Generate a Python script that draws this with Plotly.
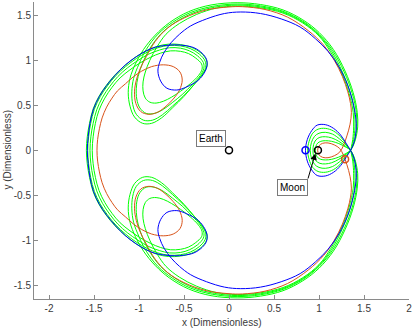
import plotly.graph_objects as go

# ---- Data: upper half-paths of each symmetric orbit ----
# Each half runs from the far-left crossing of the x-axis, through the upper-left
# loop, over the top arc, down the right arc, through the crossing near x=1.35 and
# along the lower half of the Moon lobe back to the x-axis. The full orbit is the
# half plus its mirror image in the x-axis.
blue_half = [
    (-1.575, 0.0), (-1.565, 0.15), (-1.545, 0.30), (-1.505, 0.46), (-1.44, 0.60),
    (-1.36, 0.72), (-1.26, 0.84), (-1.15, 0.95), (-1.03, 1.04), (-0.93, 1.10),
    (-0.82, 1.145), (-0.71, 1.165), (-0.60, 1.172), (-0.50, 1.165), (-0.39, 1.14),
    (-0.30, 1.08), (-0.25, 1.01), (-0.245, 0.94), (-0.27, 0.87), (-0.34, 0.78),
    (-0.47, 0.705), (-0.58, 0.67), (-0.69, 0.69), (-0.76, 0.77), (-0.79, 0.88),
    (-0.77, 0.98), (-0.72, 1.09), (-0.64, 1.20), (-0.55, 1.29), (-0.43, 1.38),
    (-0.25, 1.46), (-0.05, 1.52), (0.13, 1.537), (0.35, 1.52), (0.58, 1.46),
    (0.79, 1.37), (0.96, 1.24), (1.10, 1.10), (1.22, 0.93), (1.32, 0.72),
    (1.385, 0.50), (1.414, 0.30), (1.405, 0.16), (1.38, 0.06), (1.35, 0.0),
    (1.30, -0.08), (1.24, -0.17), (1.16, -0.245), (1.07, -0.285), (0.98, -0.28),
    (0.92, -0.22), (0.87, -0.12), (0.85, 0.0),
]

red_half = [
    (-1.467, 0.0), (-1.46, 0.12), (-1.44, 0.24), (-1.41, 0.36), (-1.36, 0.48),
    (-1.30, 0.58), (-1.24, 0.66), (-1.15, 0.74), (-1.06, 0.82), (-0.97, 0.88),
    (-0.86, 0.93), (-0.73, 0.95), (-0.62, 0.93), (-0.545, 0.87), (-0.52, 0.78),
    (-0.55, 0.67), (-0.62, 0.57), (-0.70, 0.49), (-0.79, 0.425), (-0.89, 0.40),
    (-0.98, 0.43), (-1.035, 0.52), (-1.05, 0.65), (-1.03, 0.78), (-0.99, 0.90),
    (-0.92, 1.04), (-0.82, 1.21), (-0.68, 1.36), (-0.50, 1.47), (-0.25, 1.56),
    (0.0, 1.593), (0.15, 1.596), (0.40, 1.565), (0.65, 1.48), (0.88, 1.33),
    (1.05, 1.17), (1.17, 1.00), (1.26, 0.82), (1.32, 0.65), (1.35, 0.52),
    (1.36, 0.42), (1.345, 0.29), (1.31, 0.16), (1.27, 0.05), (1.23, -0.02),
    (1.17, -0.06), (1.10, -0.082), (1.04, -0.078), (1.0, -0.05), (0.985, 0.0),
]

green1_half = [
    (-1.585, 0.0), (-1.575, 0.15), (-1.55, 0.30), (-1.51, 0.46), (-1.445, 0.60),
    (-1.365, 0.72), (-1.27, 0.835), (-1.16, 0.94), (-1.04, 1.035), (-0.92, 1.105),
    (-0.80, 1.155), (-0.67, 1.18), (-0.54, 1.175), (-0.42, 1.145), (-0.31, 1.08),
    (-0.25, 1.00), (-0.245, 0.93), (-0.29, 0.85), (-0.38, 0.74), (-0.50, 0.60),
    (-0.63, 0.47), (-0.75, 0.36), (-0.86, 0.30), (-0.96, 0.30), (-1.05, 0.37),
    (-1.10, 0.49), (-1.12, 0.64), (-1.10, 0.80), (-1.04, 0.96), (-0.95, 1.12),
    (-0.82, 1.28), (-0.66, 1.42), (-0.45, 1.54), (-0.2, 1.615), (0.09, 1.64),
    (0.35, 1.62), (0.60, 1.56), (0.82, 1.45), (1.0, 1.31), (1.16, 1.12),
    (1.29, 0.88), (1.38, 0.64), (1.425, 0.42), (1.43, 0.26), (1.405, 0.12),
    (1.375, 0.04), (1.35, 0.0), (1.30, -0.07), (1.24, -0.15), (1.16, -0.215),
    (1.07, -0.244), (0.99, -0.235), (0.93, -0.19), (0.89, -0.10), (0.873, 0.0),
]

green2_half = [
    (-1.57, 0.0), (-1.56, 0.15), (-1.537, 0.30), (-1.497, 0.455), (-1.432, 0.595),
    (-1.352, 0.715), (-1.258, 0.83), (-1.15, 0.93), (-1.03, 1.02), (-0.91, 1.09),
    (-0.79, 1.14), (-0.67, 1.165), (-0.54, 1.16), (-0.43, 1.13), (-0.33, 1.07),
    (-0.265, 0.99), (-0.26, 0.92), (-0.30, 0.84), (-0.39, 0.73), (-0.51, 0.60),
    (-0.63, 0.49), (-0.74, 0.395), (-0.85, 0.335), (-0.95, 0.335), (-1.03, 0.40),
    (-1.07, 0.51), (-1.08, 0.65), (-1.06, 0.80), (-1.0, 0.96), (-0.92, 1.12),
    (-0.79, 1.29), (-0.63, 1.42), (-0.43, 1.53), (-0.18, 1.60), (0.09, 1.625),
    (0.35, 1.605), (0.60, 1.545), (0.82, 1.435), (1.0, 1.29), (1.15, 1.11),
    (1.28, 0.87), (1.37, 0.63), (1.415, 0.42), (1.42, 0.26), (1.40, 0.12),
    (1.372, 0.04), (1.35, 0.0), (1.30, -0.06), (1.23, -0.125), (1.15, -0.18),
    (1.07, -0.2), (1.0, -0.19), (0.95, -0.155), (0.915, -0.085), (0.903, 0.0),
]

green3_half = [
    (-1.545, 0.0), (-1.535, 0.15), (-1.51, 0.30), (-1.47, 0.45), (-1.405, 0.59),
    (-1.325, 0.71), (-1.235, 0.82), (-1.13, 0.915), (-1.01, 1.0), (-0.89, 1.07),
    (-0.77, 1.115), (-0.66, 1.14), (-0.54, 1.135), (-0.44, 1.105), (-0.35, 1.05),
    (-0.285, 0.975), (-0.28, 0.91), (-0.32, 0.83), (-0.41, 0.73), (-0.52, 0.62),
    (-0.63, 0.53), (-0.73, 0.455), (-0.83, 0.41), (-0.92, 0.41), (-0.99, 0.47),
    (-1.025, 0.57), (-1.03, 0.69), (-1.01, 0.82), (-0.96, 0.97), (-0.88, 1.13),
    (-0.76, 1.29), (-0.60, 1.42), (-0.40, 1.525), (-0.16, 1.59), (0.09, 1.614),
    (0.35, 1.594), (0.60, 1.535), (0.82, 1.425), (1.0, 1.28), (1.14, 1.10),
    (1.26, 0.87), (1.35, 0.63), (1.395, 0.42), (1.40, 0.26), (1.385, 0.12),
    (1.365, 0.04), (1.35, 0.0), (1.29, -0.05), (1.22, -0.1), (1.14, -0.138),
    (1.07, -0.151), (1.01, -0.145), (0.965, -0.115), (0.94, -0.065), (0.933, 0.0),
]

green4_half = [
    (-1.52, 0.0), (-1.51, 0.15), (-1.485, 0.30), (-1.445, 0.445), (-1.38, 0.58),
    (-1.30, 0.70), (-1.21, 0.805), (-1.10, 0.895), (-0.99, 0.97), (-0.87, 1.035),
    (-0.76, 1.08), (-0.65, 1.105), (-0.54, 1.10), (-0.45, 1.075), (-0.37, 1.025),
    (-0.305, 0.96), (-0.30, 0.90), (-0.34, 0.83), (-0.43, 0.74), (-0.54, 0.655),
    (-0.64, 0.59), (-0.73, 0.545), (-0.81, 0.525), (-0.88, 0.535), (-0.93, 0.58),
    (-0.955, 0.66), (-0.955, 0.76), (-0.93, 0.87), (-0.88, 1.0), (-0.80, 1.15),
    (-0.70, 1.29), (-0.55, 1.41), (-0.36, 1.51), (-0.14, 1.58), (0.09, 1.603),
    (0.35, 1.583), (0.60, 1.525), (0.82, 1.415), (1.0, 1.27), (1.13, 1.09),
    (1.25, 0.86), (1.335, 0.63), (1.38, 0.42), (1.385, 0.26), (1.375, 0.12),
    (1.36, 0.04), (1.35, 0.0), (1.29, -0.04), (1.22, -0.075), (1.14, -0.1),
    (1.07, -0.107), (1.02, -0.1), (0.985, -0.08), (0.965, -0.045), (0.959, 0.0),
]

earth_pos = (0.0, 0.0)
moon_pos = (0.988, 0.0)
blue_start = (0.85, 0.0)
red_start = (1.29, -0.1)

x_ticks = [-2, -1.5, -1, -0.5, 0, 0.5, 1, 1.5, 2]
x_tick_labels = ["-2", "-1.5", "-1", "-0.5", "0", "0.5", "1", "1.5", "2"]
y_ticks = [-1.5, -1, -0.5, 0, 0.5, 1, 1.5]
y_tick_labels = ["-1.5", "-1", "-0.5", "0", "0.5", "1", "1.5"]

RED = "#D95319"
BLUE = "#0000FF"
GREEN = "#00FF00"
AX = "#3a3a3a"
AXLINE = "#8a8a8a"


def full_orbit(half):
    xs = [p[0] for p in half]
    ys = [p[1] for p in half]
    back = half[::-1][1:]
    xs += [p[0] for p in back]
    ys += [-p[1] for p in back]
    return xs, ys


fig = go.Figure()
for h in (green1_half, green2_half, green3_half, green4_half):
    xs, ys = full_orbit(h)
    fig.add_trace(go.Scatter(x=xs, y=ys, mode="lines",
                             line=dict(color=GREEN, width=1, shape="spline", smoothing=1.0)))
for h, c in ((red_half, RED), (blue_half, BLUE)):
    xs, ys = full_orbit(h)
    fig.add_trace(go.Scatter(x=xs, y=ys, mode="lines",
                             line=dict(color=c, width=1, shape="spline", smoothing=1.0)))

for pos, c in ((earth_pos, "black"), (moon_pos, "black"), (blue_start, BLUE), (red_start, RED)):
    fig.add_trace(go.Scatter(x=[pos[0]], y=[pos[1]], mode="markers",
                             marker=dict(symbol="circle-open", size=7, color=c,
                                         line=dict(width=1.5, color=c))))

FAM = "Liberation Sans, Arial, sans-serif"
box = dict(showarrow=False, bordercolor="#7a7a7a", borderwidth=1, bgcolor="white",
           borderpad=2, font=dict(family=FAM, size=10, color="black"))
fig.add_annotation(x=-0.2, y=0.129, xref="x", yref="y", text="Earth", **box)
fig.add_annotation(x=0.709, y=-0.417, xref="x", yref="y", text="Moon", **box)
fig.add_annotation(x=0.96, y=-0.035, xref="x", yref="y", ax=0.873, ay=-0.33,
                   axref="x", ayref="y", text="", showarrow=True, arrowhead=2,
                   arrowsize=1.3, arrowwidth=1, arrowcolor="black", standoff=0, startstandoff=0)

fnt = dict(family=FAM, size=10, color=AX)
# axis titles as annotations so they sit exactly where the reference has them
fig.add_annotation(x=0.5, y=0, xref="paper", yref="paper", xanchor="center", yanchor="top",
                   yshift=-16, text="x (Dimensionless)", showarrow=False, font=fnt)
fig.add_annotation(x=0, y=0.5, xref="paper", yref="paper", xanchor="center", yanchor="middle",
                   xshift=-27, textangle=-90, text="y (Dimensionless)", showarrow=False, font=fnt)

fig.update_layout(
    width=415, height=329,
    margin=dict(l=34, r=6, t=2, b=30, autoexpand=False),
    plot_bgcolor="white", paper_bgcolor="white",
    showlegend=False,
    font=fnt,
    xaxis=dict(range=[-2.167, 2.0], tickvals=x_ticks, ticktext=x_tick_labels,
               ticks="inside", ticklen=4, tickcolor=AXLINE, showline=True, linecolor=AXLINE,
               linewidth=1, showgrid=False, zeroline=False, tickfont=fnt, automargin=False),
    yaxis=dict(range=[-1.652, 1.648], tickvals=y_ticks, ticktext=y_tick_labels,
               ticks="inside", ticklen=4, tickcolor=AXLINE, showline=True, linecolor=AXLINE,
               linewidth=1, showgrid=False, zeroline=False, tickfont=fnt, automargin=False),
)

fig.write_html("out.html", config={"displayModeBar": False},
               post_script="document.body.style.margin='0';document.body.style.padding='0';")
